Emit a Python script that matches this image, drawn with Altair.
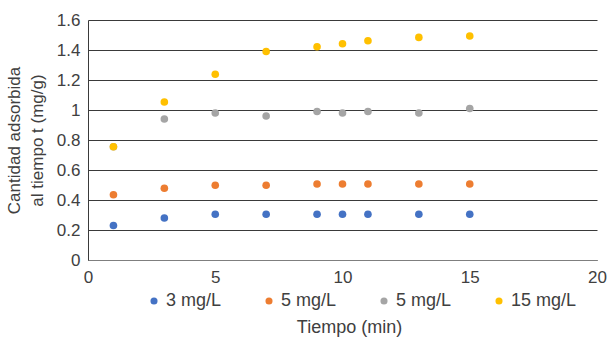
import altair as alt
import pandas as pd
import json

tiempo = [1, 3, 5, 7, 9, 10, 11, 13, 15]
serie_claves = ["s3", "s5a", "s5b", "s15"]
serie_nombres = ["3 mg/L", "5 mg/L", "5 mg/L", "15 mg/L"]
serie_colores = ["#4472C4", "#ED7D31", "#A5A5A5", "#FFC000"]
q_3 = [0.23, 0.28, 0.305, 0.305, 0.305, 0.305, 0.305, 0.305, 0.305]
q_5a = [0.435, 0.478, 0.498, 0.498, 0.507, 0.507, 0.507, 0.507, 0.507]
q_5b = [0.755, 0.94, 0.98, 0.96, 0.99, 0.98, 0.99, 0.98, 1.01]
q_15 = [0.755, 1.053, 1.238, 1.39, 1.422, 1.442, 1.462, 1.484, 1.493]

valores = [q_3, q_5a, q_5b, q_15]
rows = []
for k, vals in zip(serie_claves, valores):
    for t, v in zip(tiempo, vals):
        rows.append({"Tiempo": t, "q": v, "serie": k})
df = pd.DataFrame(rows)

label_map = json.dumps(dict(zip(serie_claves, serie_nombres)))

font = "Liberation Sans"
txt = "#404040"

chart = alt.Chart(df).mark_circle(size=58, opacity=1).encode(
    x=alt.X("Tiempo:Q",
            scale=alt.Scale(domain=[0, 20], nice=False),
            axis=alt.Axis(values=[0, 5, 10, 15, 20], title="Tiempo (min)",
                          grid=False, ticks=False, labelPadding=9,
                          labelFlush=False, titleFontSize=18,
                          domainColor="#7f7f7f", titleY=72, titleX=261,
                          titleBaseline="alphabetic")),
    y=alt.Y("q:Q",
            scale=alt.Scale(domain=[0, 1.6], nice=False),
            axis=alt.Axis(values=[0, 0.2, 0.4, 0.6, 0.8, 1, 1.2, 1.4, 1.6],
                          format=".1~f", labelFlush=False,
                          title=["Cantidad adsorbida", "al tiempo t (mg/g)"],
                          grid=True, gridColor="#3a3a3a", ticks=False,
                          labelPadding=8, domainColor="#3a3a3a",
                          titleLineHeight=23, titlePadding=10)),
    color=alt.Color("serie:N",
                    scale=alt.Scale(domain=serie_claves, range=serie_colores),
                    sort=serie_claves,
                    legend=alt.Legend(orient="none", legendX=57, legendY=272,
                                      direction="horizontal", title=None,
                                      symbolType="circle", symbolSize=50,
                                      labelOffset=3, columnPadding=38,
                                      labelExpr=f"{label_map}[datum.value]")),
    order=alt.Order("ord:Q"),
).transform_calculate(
    ord="indexof(" + json.dumps(serie_claves) + ", datum.serie)"
).properties(
    width=509, height=240,
    autosize=alt.AutoSizeParams(type="none"),
    padding={"left": 88, "top": 20, "right": 14, "bottom": 77},
).configure_view(stroke=None).configure_axis(
    labelFont=font, titleFont=font, labelFontSize=17, titleFontSize=17,
    labelColor=txt, titleColor=txt, titleFontWeight="normal",
).configure_legend(
    labelFont=font, labelFontSize=18, labelColor=txt,
)

chart.save("out.html", embed_options={"renderer": "svg", "actions": False})
